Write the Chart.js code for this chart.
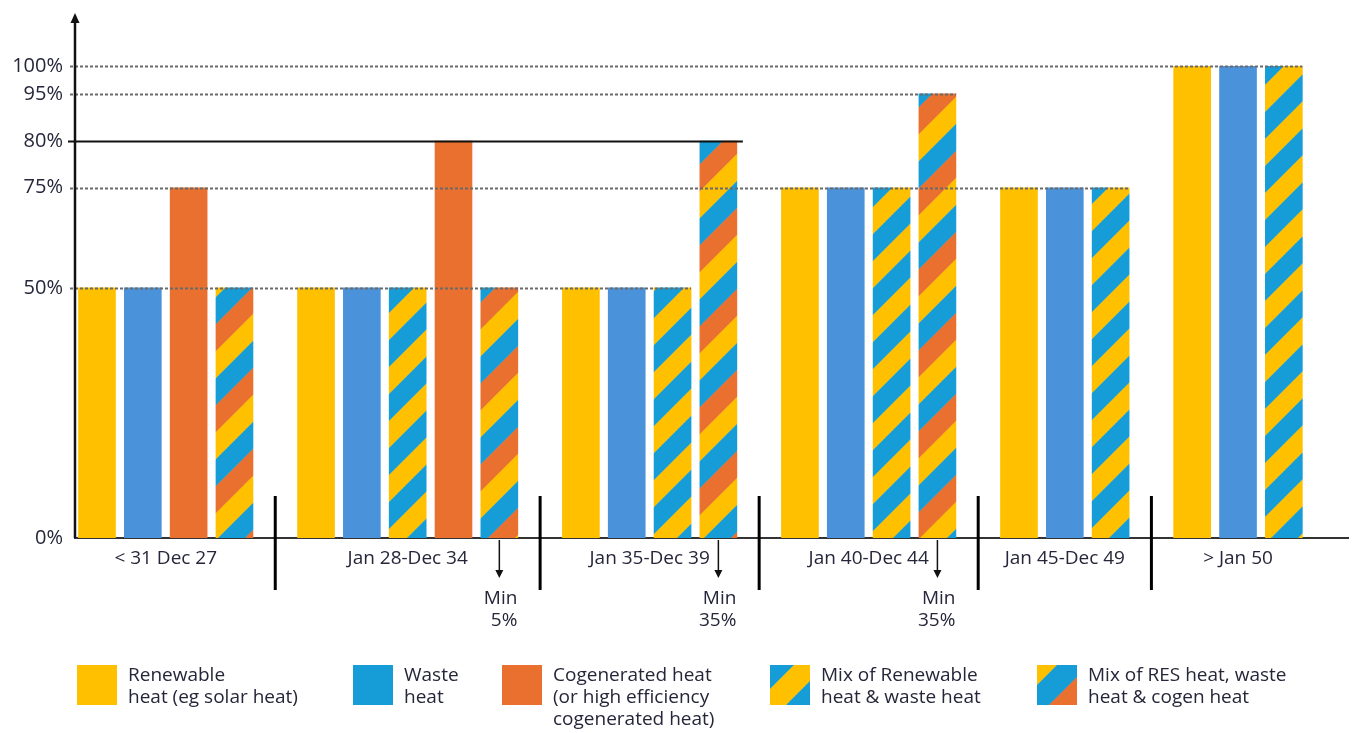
<!DOCTYPE html>
<html>
<head>
<meta charset="utf-8">
<script src="https://cdn.jsdelivr.net/npm/chart.js@4/dist/chart.umd.min.js"></script>
<style>
  html, body { margin: 0; padding: 0; background: #fff; }
  canvas { display: block; }
</style>
</head>
<body>
<canvas id="heatChart" width="1357" height="733"></canvas>
<script>
// ============================================
// DATA
// ============================================
const periods = ['< 31 Dec 27', 'Jan 28-Dec 34', 'Jan 35-Dec 39', 'Jan 40-Dec 44', 'Jan 45-Dec 49', '> Jan 50'];

// required share of each heat source per period (null = option not available)
const renewable     = [50, 50, 50, 75, 75, 100];
const waste         = [50, 50, 50, 75, 75, 100];
const mixRenewWaste = [null, 50, 50, 75, 75, 100];
const cogen         = [75, 80, null, null, null, null];
const mixAll        = [50, 50, 80, 95, null, null];

// minimum cogen share inside the mixed option
const minCogen = [null, '5%', '35%', '35%', null, null];

const yTicks = [0, 50, 75, 80, 95, 100];

// ============================================
// STYLE
// ============================================
const YELLOW = '#FFC000';
const BLUE = '#4A92DA';
const CYAN = '#169DD7';
const ORANGE = '#E9702F';
const INK = '#26263a';
const FONT = '"Open Sans", sans-serif';
const BAR_W = 37;
const GROUP_GAP = 0.78;
const LEGEND_X = [77, 353, 502, 770, 1037];

// diagonal "/" stripes, one band per colour
function stripes(colors, band) {
    const size = band * colors.length;
    const tile = document.createElement('canvas');
    tile.width = size;
    tile.height = size;
    const c = tile.getContext('2d');
    for (let k = 0; k < colors.length * 2; k++) {
        const c0 = k * band, c1 = (k + 1) * band;
        c.fillStyle = colors[k % colors.length];
        c.beginPath();
        c.moveTo(c0, 0);
        c.lineTo(c1 + 0.5, 0);
        c.lineTo(c1 + 0.5 - size, size);
        c.lineTo(c0 - size, size);
        c.closePath();
        c.fill();
    }
    return c.createPattern(tile, 'repeat');
}

const series = [
    { values: renewable,     fill: YELLOW, key: YELLOW,
      legend: ['Renewable', 'heat (eg solar heat)'] },
    { values: waste,         fill: BLUE, key: CYAN,
      legend: ['Waste', 'heat'] },
    { values: mixRenewWaste, fill: stripes([YELLOW, CYAN], 27), bands: [[CYAN, 0], [YELLOW, 24], [CYAN, 56]],
      legend: ['Mix of Renewable', 'heat & waste heat'] },
    { values: cogen,         fill: ORANGE, key: ORANGE,
      legend: ['Cogenerated heat', '(or high efficiency', 'cogenerated heat)'] },
    { values: mixAll,        fill: stripes([YELLOW, CYAN, ORANGE], 27), bands: [[YELLOW, 0], [CYAN, 20], [ORANGE, 52]],
      legend: ['Mix of RES heat, waste', 'heat & cogen heat'] }
];
// legend reads in a different order than the bars
const legendOrder = [0, 1, 3, 2, 4];

// lay the bars out period by period, skipping options that don't exist
let slot = 0;
const groups = [];
series.forEach(s => { s.points = []; });
periods.forEach((label, i) => {
    const first = slot;
    const bars = [];
    series.forEach((s, si) => {
        if (s.values[i] == null) return;
        s.points.push({ x: slot, y: s.values[i] });
        bars.push({ x: slot, y: s.values[i], series: si });
        slot++;
    });
    groups.push({ label, first, last: slot - 1, bars, note: minCogen[i] });
    slot += GROUP_GAP;
});
const lastBar = groups[groups.length - 1].last;

// ============================================
// Y SCALE WITH UNEVEN SPACING BETWEEN TICKS
// ============================================
const tickSpacing = [0, 0.53, 0.742, 0.841, 0.941, 1];

function toDecimal(v) {
    for (let i = 1; i < yTicks.length; i++) {
        if (v <= yTicks[i]) {
            const t = (v - yTicks[i - 1]) / (yTicks[i] - yTicks[i - 1]);
            return tickSpacing[i - 1] + t * (tickSpacing[i] - tickSpacing[i - 1]);
        }
    }
    return 1;
}

class SteppedScale extends Chart.LinearScale {
    static id = 'stepped';
    static defaults = Chart.LinearScale.defaults;
    getPixelForValue(value) {
        if (value === null || value === undefined) return NaN;
        return this.getPixelForDecimal(toDecimal(value));
    }
    getValueForPixel(pixel) {
        const d = this.getDecimalForPixel(pixel);
        for (let i = 1; i < yTicks.length; i++) {
            if (d <= tickSpacing[i]) {
                const t = (d - tickSpacing[i - 1]) / (tickSpacing[i] - tickSpacing[i - 1]);
                return yTicks[i - 1] + t * (yTicks[i] - yTicks[i - 1]);
            }
        }
        return 100;
    }
}
Chart.register(SteppedScale);

// ============================================
// DECORATIONS: reference lines, axis arrow, labels, legend
// ============================================
function arrowDown(ctx, x, y0, y1) {
    ctx.beginPath();
    ctx.moveTo(x, y0);
    ctx.lineTo(x, y1 - 6);
    ctx.stroke();
    ctx.beginPath();
    ctx.moveTo(x - 4, y1 - 8);
    ctx.lineTo(x + 4, y1 - 8);
    ctx.lineTo(x, y1);
    ctx.closePath();
    ctx.fill();
}

function swatch(ctx, x, y, size, s) {
    if (!s.bands) {
        ctx.fillStyle = s.key;
        ctx.fillRect(x, y, size, size);
        return;
    }
    ctx.save();
    ctx.beginPath();
    ctx.rect(x, y, size, size);
    ctx.clip();
    s.bands.forEach(([color, from], i) => {
        const to = i + 1 < s.bands.length ? s.bands[i + 1][1] : size * 2;
        ctx.fillStyle = color;
        ctx.beginPath();
        ctx.moveTo(x + from, y);
        ctx.lineTo(x + to + 0.5, y);
        ctx.lineTo(x + to + 0.5 - size, y + size);
        ctx.lineTo(x + from - size, y + size);
        ctx.closePath();
        ctx.fill();
    });
    ctx.restore();
}

const decorations = {
    id: 'decorations',
    afterDatasetsDraw(chart) {
        const { ctx, chartArea: area, scales: { x, y } } = chart;
        ctx.save();

        // level lines run from the axis to the last bar reaching that level
        yTicks.slice(1).forEach(level => {
            let end = null;
            groups.forEach(g => g.bars.forEach(b => {
                if (b.y === level) end = x.getPixelForValue(b.x) + BAR_W / 2;
            }));
            if (end === null) return;
            const py = Math.round(y.getPixelForValue(level)) + 0.5;
            ctx.beginPath();
            if (level === 80) {
                ctx.setLineDash([]);
                ctx.strokeStyle = '#111';
                ctx.lineWidth = 2;
                ctx.moveTo(area.left - 7, py);
                ctx.lineTo(end + 6, py);
            } else {
                ctx.setLineDash([3, 2]);
                ctx.strokeStyle = '#6a6a6a';
                ctx.lineWidth = 2;
                ctx.moveTo(area.left - 5, py);
                ctx.lineTo(end, py);
            }
            ctx.stroke();
        });
        ctx.setLineDash([]);

        // y axis runs on past 100% and ends in an arrow
        ctx.strokeStyle = '#111';
        ctx.fillStyle = '#111';
        ctx.lineWidth = 2.5;
        ctx.beginPath();
        ctx.moveTo(area.left, area.bottom);
        ctx.lineTo(area.left, 22);
        ctx.stroke();
        ctx.beginPath();
        ctx.moveTo(area.left - 4.5, 23);
        ctx.lineTo(area.left + 4.5, 23);
        ctx.lineTo(area.left, 13);
        ctx.closePath();
        ctx.fill();

        // period names, separators and min-cogen notes
        ctx.font = '19px ' + FONT;
        ctx.fillStyle = INK;
        ctx.textBaseline = 'middle';
        groups.forEach((g, i) => {
            const cx = (x.getPixelForValue(g.first) + x.getPixelForValue(g.last)) / 2;
            ctx.textAlign = 'center';
            ctx.fillStyle = INK;
            ctx.fillText(g.label, cx, area.bottom + 21);

            if (i + 1 < groups.length) {
                const sx = (x.getPixelForValue(g.last) + x.getPixelForValue(groups[i + 1].first)) / 2;
                ctx.strokeStyle = '#000';
                ctx.lineWidth = 3;
                ctx.beginPath();
                ctx.moveTo(sx, area.bottom - 42);
                ctx.lineTo(sx, area.bottom + 52);
                ctx.stroke();
            }

            if (g.note) {
                const bar = g.bars.find(b => b.series === 4);
                const ax = x.getPixelForValue(bar.x);
                ctx.strokeStyle = '#111';
                ctx.fillStyle = '#111';
                ctx.lineWidth = 1.5;
                arrowDown(ctx, ax, area.bottom + 2, area.bottom + 40);
                ctx.fillStyle = INK;
                ctx.textAlign = 'right';
                ctx.fillText('Min', ax + 18, area.bottom + 61);
                ctx.fillText(g.note, ax + 18, area.bottom + 83);
            }
        });
        ctx.restore();
    },
    afterDraw(chart) {
        const { ctx } = chart;
        ctx.save();
        ctx.font = '19px ' + FONT;
        ctx.textBaseline = 'middle';
        ctx.textAlign = 'left';
        const top = 665;
        legendOrder.forEach((si, k) => {
            const s = series[si];
            const lx = LEGEND_X[k];
            swatch(ctx, lx, top, 40, s);
            ctx.fillStyle = INK;
            s.legend.forEach((line, li) => {
                ctx.fillText(line, lx + 51, top + 11 + li * 22);
            });
        });
        ctx.restore();
    }
};

// ============================================
// CHART
// ============================================
const ctx = document.getElementById('heatChart');
new Chart(ctx.getContext('2d'), {
    type: 'bar',
    data: {
        datasets: series.map(s => ({
            data: s.points,
            backgroundColor: s.fill,
            borderWidth: 0,
            barThickness: BAR_W,
            grouped: false
        }))
    },
    options: {
        responsive: false,
        animation: false,
        layout: { padding: { top: 66, right: 9, left: 0, bottom: 0 } },
        plugins: {
            legend: { display: false },
            tooltip: { enabled: false }
        },
        scales: {
            x: {
                type: 'linear',
                offset: false,
                min: -0.48,
                max: lastBar + 1.4,
                grid: { display: false },
                ticks: { display: false },
                border: { color: '#333', width: 2 },
                afterFit: scale => { scale.height = 195; }
            },
            y: {
                type: 'stepped',
                min: 0,
                max: 100,
                grid: { display: false, tickLength: 8 },
                border: { display: false },
                afterBuildTicks: scale => {
                    scale.ticks = yTicks.map(v => ({ value: v }));
                },
                afterFit: scale => { scale.width = 75; },
                ticks: {
                    autoSkip: false,
                    padding: 4,
                    color: INK,
                    font: { family: '"Open Sans"', size: 20 },
                    callback: v => v + '%'
                }
            }
        }
    },
    plugins: [decorations]
});
</script>
</body>
</html>
